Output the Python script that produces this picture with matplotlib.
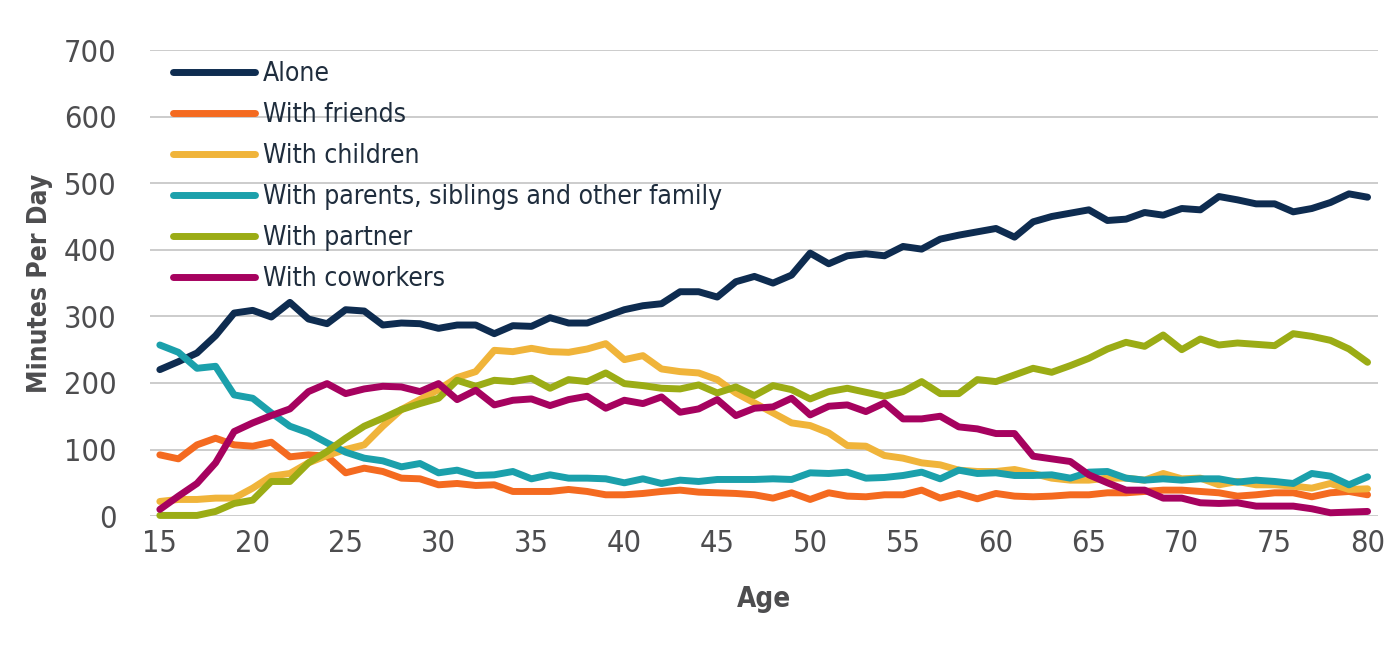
import matplotlib
matplotlib.use("Agg")
import matplotlib.pyplot as plt

plt.rcParams['font.family'] = ['DejaVu Sans']
plt.rcParams['font.stretch'] = 'condensed'

ages = list(range(15, 81))

alone = [220, 232, 245, 271, 305, 309, 299, 321, 296, 289, 310, 308, 287, 290, 289, 282,
         287, 287, 274, 286, 285, 298, 290, 290, 300, 310, 316, 319, 337, 337, 329, 352,
         360, 350, 362, 395, 379, 391, 394, 391, 405, 401, 416, 422, 427, 432, 419, 442,
         450, 455, 460, 444, 446, 456, 452, 462, 460, 480, 475, 469, 469, 457, 462, 471,
         484, 479]
friends = [92, 86, 107, 117, 107, 105, 111, 89, 92, 90, 65, 72, 67, 57, 56, 47,
           49, 46, 47, 37, 37, 37, 40, 37, 32, 32, 34, 37, 39, 36, 35, 34,
           32, 27, 35, 25, 35, 30, 29, 32, 32, 39, 27, 34, 26, 34, 30, 29,
           30, 32, 32, 35, 35, 37, 39, 39, 37, 35, 30, 32, 35, 35, 29, 35,
           37, 32]
children = [22, 25, 25, 27, 27, 42, 60, 64, 80, 91, 100, 107, 135, 160, 175, 190,
            208, 217, 249, 247, 252, 247, 246, 251, 259, 235, 241, 221, 217, 215, 205, 185,
            170, 155, 140, 136, 125, 106, 105, 91, 87, 80, 77, 69, 67, 67, 70, 64,
            57, 54, 54, 57, 57, 54, 64, 56, 57, 47, 52, 47, 47, 45, 42, 49,
            40, 41]
family = [257, 246, 222, 225, 182, 177, 155, 135, 125, 110, 96, 87, 83, 74, 79, 65,
          69, 61, 62, 67, 56, 62, 57, 57, 56, 50, 56, 49, 54, 52, 55, 55,
          55, 56, 55, 65, 64, 66, 57, 58, 61, 66, 56, 69, 64, 65, 61, 61,
          62, 57, 66, 67, 57, 54, 56, 54, 56, 56, 51, 54, 52, 49, 64, 60,
          47, 59]
partner = [1, 1, 1, 7, 19, 24, 52, 52, 80, 97, 117, 135, 147, 160, 169, 177,
           204, 195, 204, 202, 207, 192, 205, 202, 215, 199, 196, 192, 191, 197, 185, 194,
           181, 196, 190, 176, 187, 192, 186, 180, 187, 202, 184, 184, 205, 202, 212, 222,
           216, 226, 237, 251, 261, 255, 272, 250, 266, 257, 260, 258, 256, 274, 270, 264,
           251, 231]
coworkers = [10, 30, 49, 80, 127, 140, 151, 161, 187, 199, 184, 191, 195, 194, 187, 199,
             175, 189, 167, 174, 176, 166, 175, 180, 162, 174, 169, 179, 156, 161, 175, 151,
             162, 164, 177, 152, 165, 167, 157, 170, 146, 146, 150, 134, 131, 124, 124, 90,
             86, 82, 62, 50, 39, 39, 27, 27, 20, 19, 20, 15, 15, 15, 11, 5,
             6, 7]

series = [alone, friends, children, family, partner, coworkers]
labels = ["Alone", "With friends", "With children",
          "With parents, siblings and other family", "With partner", "With coworkers"]
colors = ["#0e2c50", "#f46a20", "#f0b43a", "#1ba0ab", "#9bac15", "#a6025f"]

fig = plt.figure(figsize=(14, 6.5), dpi=100)
ax = fig.add_axes([0.107, 0.206, 0.877, 0.717])

for ys, lab, c in zip(series, labels, colors):
    ax.plot(ages, ys, color=c, linewidth=5, label=lab, clip_on=False,
            solid_joinstyle='round', solid_capstyle='round')

ax.set_xlim(14.46, 80.54)
ax.set_ylim(0, 700)
ax.set_yticks(range(0, 701, 100))
ax.set_xticks(range(15, 81, 5))
ax.grid(axis='y', color='#c8c8c8', linewidth=1.3)
ax.set_axisbelow(True)
for s in ax.spines.values():
    s.set_visible(False)
ax.tick_params(length=0, labelsize=22, labelcolor='#4d4d4f')
ax.tick_params(axis='y', pad=24)
ax.tick_params(axis='x', pad=9)

ax.set_xlabel("Age", fontsize=20, fontweight='bold', color='#4d4d4f', labelpad=20)
ax.set_ylabel("Minutes Per Day", fontsize=19, fontweight='bold', color='#4d4d4f', labelpad=8)

leg = ax.legend(loc='upper left', bbox_to_anchor=(0.019, 0.976), frameon=False,
                fontsize=19, handlelength=3.1, handletextpad=0.3,
                labelspacing=0.57, borderaxespad=0, borderpad=0)
for t in leg.get_texts():
    t.set_color('#1f2d3d')

fig.savefig("out.png", dpi=100)
